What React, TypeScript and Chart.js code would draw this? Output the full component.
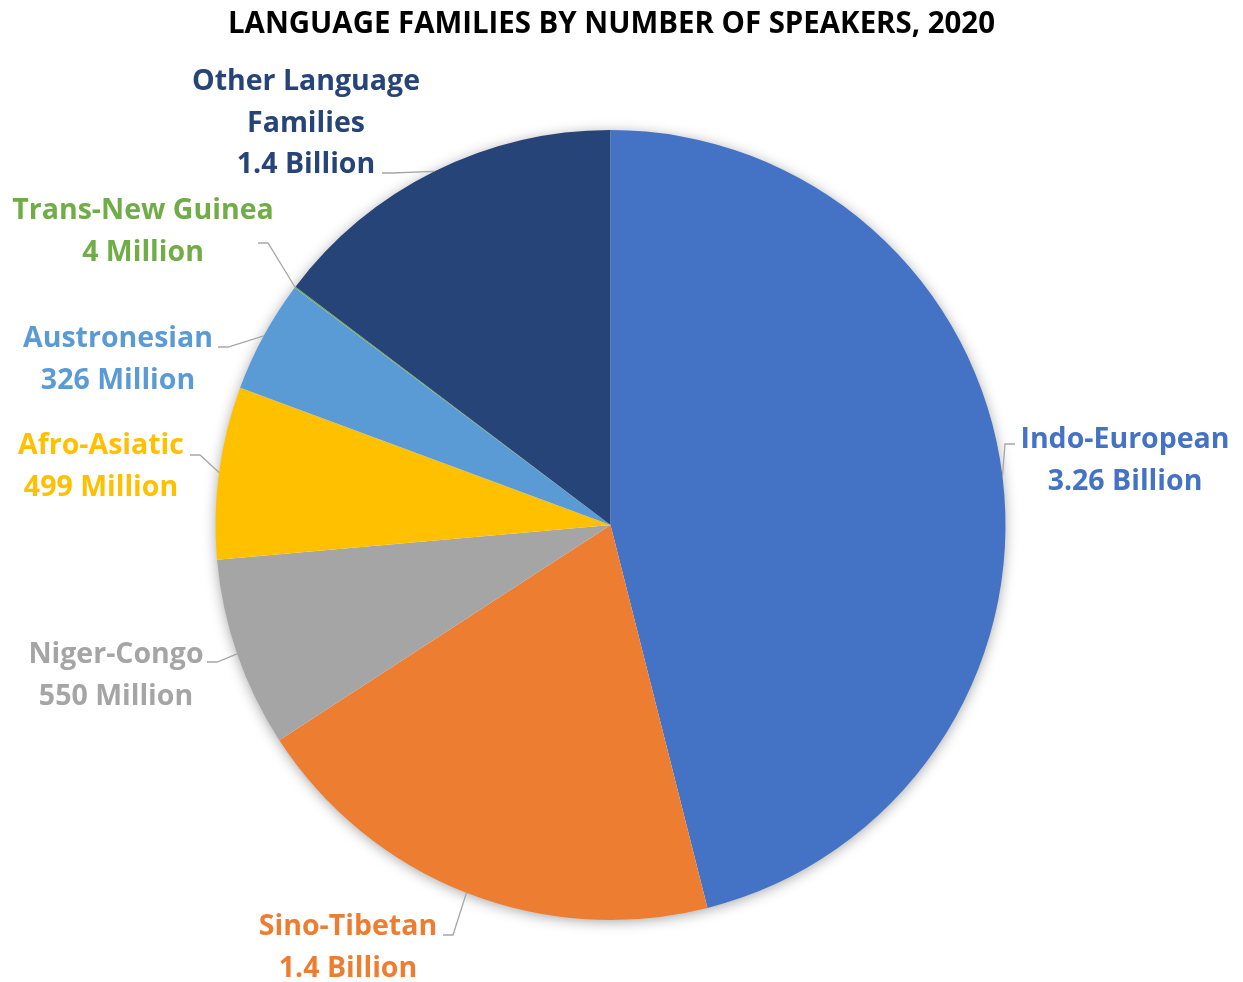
import React, { useEffect, useRef } from "react";
import { Chart, registerables } from "chart.js";

Chart.register(...registerables);

const TITLE = "LANGUAGE FAMILIES BY NUMBER OF SPEAKERS, 2020";
const families = [
  "Indo-European",
  "Sino-Tibetan",
  "Niger-Congo",
  "Afro-Asiatic",
  "Austronesian",
  "Trans-New Guinea",
  "Other Language Families",
];
// slice sizes (millions of speakers)
const speakersMillions = [3260, 1400, 550, 499, 326, 4, 1040];
const nameLines = [
  ["Indo-European"],
  ["Sino-Tibetan"],
  ["Niger-Congo"],
  ["Afro-Asiatic"],
  ["Austronesian"],
  ["Trans-New Guinea"],
  ["Other Language", "Families"],
];
const valueLabels = [
  "3.26 Billion",
  "1.4 Billion",
  "550 Million",
  "499 Million",
  "326 Million",
  "4 Million",
  "1.4 Billion",
];
const sliceColors = ["#4472C4", "#ED7D31", "#A5A5A5", "#FFC000", "#5B9BD5", "#70AD47", "#264478"];

// label placement (text centre of first line, leader end at text)
const labelLayout = [
  { cx: 1125, cy: 440, lx: 1015, ly: 444, dir: -1 },
  { cx: 348, cy: 927, lx: 443, ly: 935, dir: 1 },
  { cx: 116, cy: 655, lx: 207, ly: 662, dir: 1 },
  { cx: 101, cy: 446, lx: 190, ly: 455, dir: 1 },
  { cx: 118, cy: 339, lx: 218, ly: 347, dir: 1 },
  { cx: 143, cy: 211, lx: 258, ly: 243, dir: 1 },
  { cx: 306, cy: 82, lx: 382, ly: 173, dir: 1 },
];

const FONT = "bold 28.5px 'Open Sans', Lato, sans-serif";
const TITLE_FONT = "bold 29.5px 'Open Sans', Lato, sans-serif";
const LINE_GAP = 41.5;

const pieShadowPlugin = {
  id: "pieShadow",
  beforeDatasetsDraw(chart: any) {
    const meta = chart.getDatasetMeta(0);
    const arc = meta.data[0];
    if (!arc) return;
    const { ctx } = chart;
    ctx.save();
    ctx.shadowColor = "rgba(0,0,0,0.38)";
    ctx.shadowBlur = 14;
    ctx.shadowOffsetX = 0;
    ctx.shadowOffsetY = 2;
    ctx.beginPath();
    ctx.arc(arc.x, arc.y, arc.outerRadius - 1, 0, Math.PI * 2);
    ctx.fillStyle = "#ffffff";
    ctx.fill();
    ctx.restore();
  },
};

const labelsPlugin = {
  id: "outsideLabels",
  afterDraw(chart: any) {
    const { ctx } = chart;
    const meta = chart.getDatasetMeta(0);
    ctx.save();
    // title
    ctx.font = TITLE_FONT;
    ctx.fillStyle = "#000000";
    ctx.textAlign = "center";
    ctx.textBaseline = "middle";
    ctx.fillText(TITLE, 611.5, 25, 767);

    meta.data.forEach((arc: any, i: number) => {
      const lay = labelLayout[i];
      const mid = (arc.startAngle + arc.endAngle) / 2;
      const px = arc.x + Math.cos(mid) * arc.outerRadius;
      const py = arc.y + Math.sin(mid) * arc.outerRadius;
      // leader line
      ctx.beginPath();
      ctx.strokeStyle = "#A6A6A6";
      ctx.lineWidth = 1.3;
      ctx.moveTo(lay.lx, lay.ly);
      ctx.lineTo(lay.lx + lay.dir * 10, lay.ly);
      ctx.lineTo(px, py);
      ctx.stroke();
      // text
      ctx.fillStyle = sliceColors[i];
      ctx.font = FONT;
      const lines = [...nameLines[i], valueLabels[i]];
      lines.forEach((t, k) => {
        ctx.fillText(t, lay.cx, lay.cy + k * LINE_GAP);
      });
    });
    ctx.restore();
  },
};

export default function App() {
  const ref = useRef<HTMLCanvasElement | null>(null);
  useEffect(() => {
    document.body.style.margin = "0";
    const canvas = ref.current;
    if (!canvas) return;
    const chart = new Chart(canvas, {
      type: "pie",
      data: {
        labels: families,
        datasets: [
          {
            data: speakersMillions,
            backgroundColor: sliceColors,
            borderWidth: 0,
          },
        ],
      },
      options: {
        animation: false,
        responsive: false,
        devicePixelRatio: 1,
        layout: { padding: { left: 215.5, right: 237.5, top: 130, bottom: 62 } },
        plugins: {
          legend: { display: false },
          tooltip: { enabled: false },
          title: { display: false },
        },
      },
      plugins: [pieShadowPlugin, labelsPlugin],
    });
    return () => chart.destroy();
  }, []);
  return (
    <div style={{ width: 1243, height: 982, background: "#ffffff" }}>
      <canvas ref={ref} width={1243} height={982} style={{ display: "block" }} />
    </div>
  );
}
